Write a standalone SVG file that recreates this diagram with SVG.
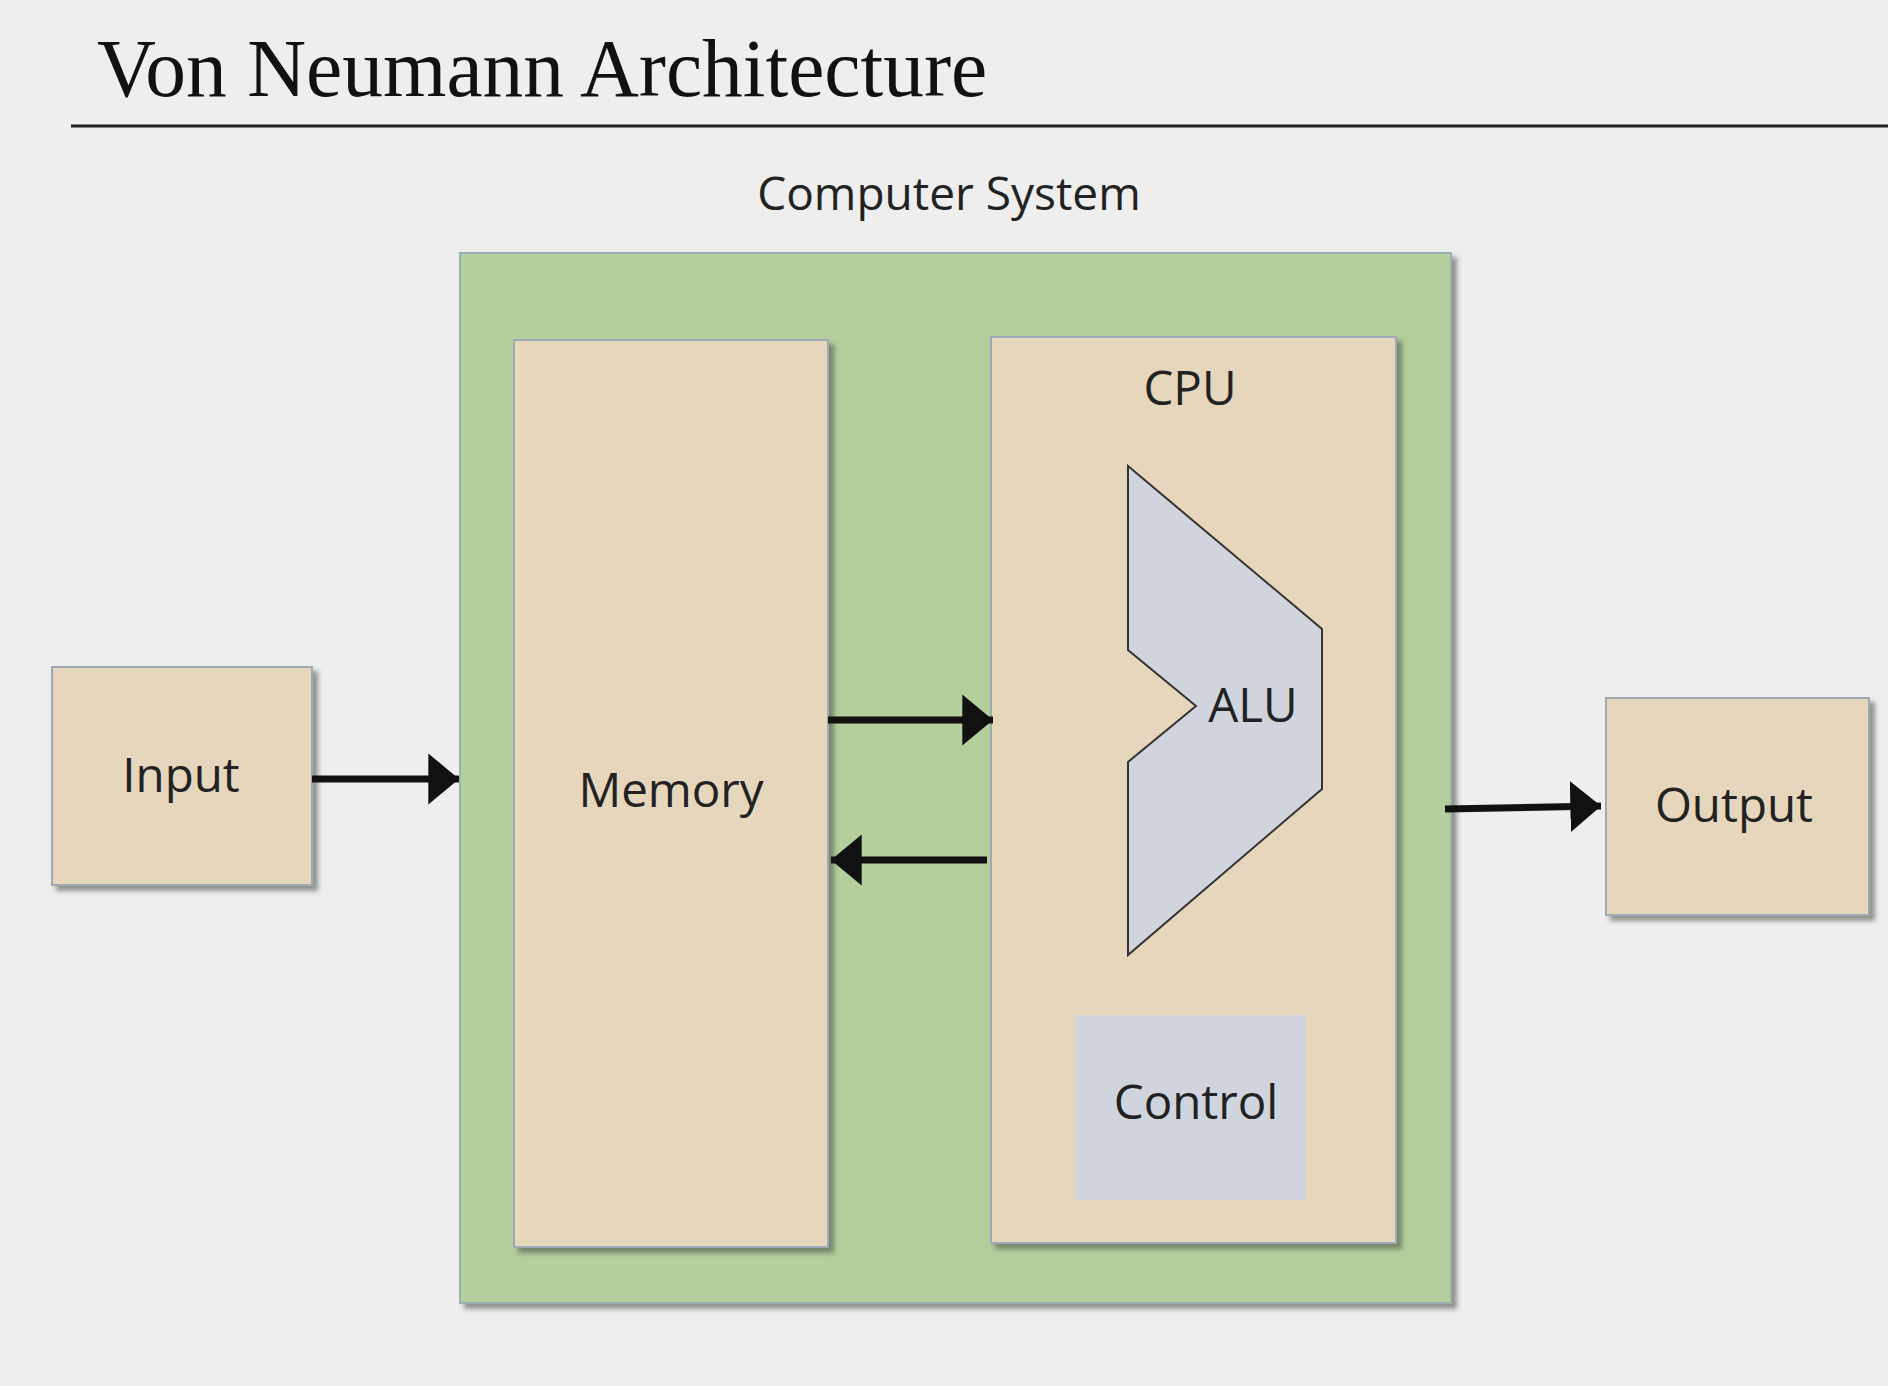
<svg xmlns="http://www.w3.org/2000/svg" width="1888" height="1386" viewBox="0 0 1888 1386">
<defs>
<filter id="sh" x="-10%" y="-10%" width="130%" height="130%">
<feDropShadow dx="5" dy="5" stdDeviation="2.5" flood-color="#3c4a3c" flood-opacity="0.55"/>
</filter>
<marker id="ah" viewBox="0 0 6 10" refX="6" refY="5" markerWidth="4.4" markerHeight="7.3" markerUnits="strokeWidth" orient="auto">
<path d="M0,0 L6,5 L0,10 z" fill="#111"/>
</marker>
<style>
.box{fill:#e6d6bb;stroke:#9eaab6;stroke-width:2;filter:url(#sh)}
.lbl{font-family:"Open Sans","DejaVu Sans",sans-serif;fill:#222;text-anchor:middle}
.arr{stroke:#111;stroke-width:7;fill:none;marker-end:url(#ah)}
</style>
</defs>
<rect width="1888" height="1386" fill="#eeeeee"/>
<text x="97" y="96" font-family="Liberation Serif, serif" font-size="81.5" fill="#111">Von Neumann Architecture</text>
<line x1="71" y1="126" x2="1888" y2="126" stroke="#222" stroke-width="3"/>
<text class="lbl" x="949" y="210" font-size="46">Computer System</text>

<g id="computer-system">
<rect x="460" y="253" width="991" height="1050" fill="#b4cf9b" stroke="#97b2b0" stroke-width="2" filter="url(#sh)"/>
</g>
<g id="input">
<rect class="box" x="52" y="667" width="260" height="218"/>
<text class="lbl" x="181" y="792" font-size="47.5">Input</text>
</g>
<g id="output">
<rect class="box" x="1606" y="698" width="263" height="217"/>
<text class="lbl" x="1734" y="822" font-size="47.5">Output</text>
</g>
<g id="memory">
<rect class="box" x="514" y="340" width="314" height="907"/>
<text class="lbl" x="671" y="807" font-size="47.5">Memory</text>
</g>
<g id="cpu">
<rect class="box" x="991" y="337" width="405" height="906"/>
<text class="lbl" x="1190" y="405" font-size="47.5">CPU</text>
</g>
<g id="alu">
<polygon points="1128,466 1322,629 1322,789 1128,955 1128,762 1196,706 1128,650" fill="#d0d4dc" stroke="#333" stroke-width="2"/>
<text class="lbl" x="1253" y="722" font-size="47.5">ALU</text>
</g>
<g id="control">
<rect x="1075" y="1015" width="231" height="185" fill="#d0d4dc"/>
<text class="lbl" x="1196" y="1119" font-size="47.5">Control</text>
</g>
<g id="connectors">
<line class="arr" x1="312" y1="779" x2="459" y2="779"/>
<line class="arr" x1="828" y1="720" x2="993" y2="720"/>
<line class="arr" x1="987" y1="860" x2="831" y2="860"/>
<line class="arr" x1="1445" y1="809" x2="1601" y2="806"/>
</g>
</svg>
